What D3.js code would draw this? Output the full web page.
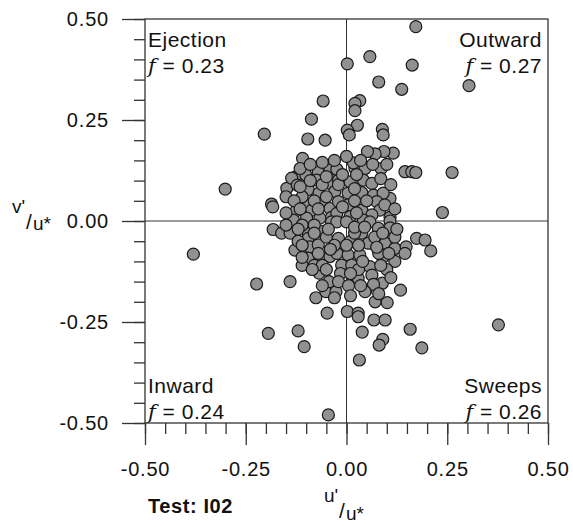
<!DOCTYPE html>
<html>
<head>
<meta charset="utf-8">
<script src="https://cdn.jsdelivr.net/npm/d3@7"></script>
<style>
  body { margin: 0; background: #fff; }
  svg { display: block; font-family: "Liberation Sans", Arial, sans-serif; }
  .tick text { font-size: 20px; letter-spacing: 0.8px; fill: #111; }
  .axis path { display: none; }
  .axis line { stroke: #333; stroke-width: 1.3; }
  .dot { fill: #919191; stroke: #1a1a1a; stroke-width: 1.2; }
  .lbl { font-size: 21px; letter-spacing: 0.5px; fill: #111; }
</style>
</head>
<body>
<svg id="chart" width="573" height="527"></svg>
<script>
// u'/u* and v'/u* for each event
var uPrime = [
  0.172, 0.058, 0.002, 0.163, 0.080, 0.137, -0.058, 0.033, 0.021, 0.021,
  -0.087, 0.027, 0.002, 0.089, -0.204, 0.091, -0.096, -0.053, 0.007, 0.304,
  0.262, 0.238, 0.145, 0.162, 0.172, 0.086, 0.116, 0.093, 0.071, 0.052,
  -0.109, 0.021, 0.046, 0.209, 0.174, 0.195, -0.301, -0.186, -0.183, -0.182,
  -0.161, -0.380, -0.125, -0.148, -0.136, -0.125, -0.132, -0.128, -0.223, -0.140,
  -0.194, -0.120, -0.105, -0.048, 0.002, 0.029, 0.029, 0.068, 0.096, 0.071,
  0.101, -0.076, 0.039, 0.158, 0.090, 0.081, 0.187, 0.032, -0.045, 0.377,
  0.134, 0.089, 0.048, 0.029, 0.058, -0.051, -0.026, -0.043, -0.068, -0.122,
  -0.101, -0.070, -0.074, -0.095, -0.068, -0.041, -0.041, -0.103, -0.058, -0.086,
  -0.041, -0.099, -0.066, -0.037, 0.017, -0.024, -0.020, 0.009, 0.042, 0.063,
  -0.029, 0.004, 0.038, 0.067, 0.108, 0.091, -0.020, 0.004, 0.075, 0.038,
  -0.024, 0.009, 0.083, 0.108, 0.063, 0.042, -0.037, -0.095, -0.062, -0.095,
  -0.091, -0.070, -0.095, -0.066, -0.041, -0.140, -0.024, 0.000, 0.058, 0.108,
  0.108, 0.079, 0.038, -0.020, 0.009, 0.054, 0.096, 0.120, 0.148, 0.145,
  -0.024, 0.004, 0.033, -0.012, 0.013, 0.063, 0.067, 0.046,
  -0.110, -0.080, -0.050, -0.020, 0.020, 0.050, 0.020, -0.060, -0.110, -0.080,
  -0.050, -0.030, 0.020, 0.070, 0.090, 0.120, 0.080, -0.120, -0.110, -0.080,
  -0.060, 0.030, 0.100, 0.120,
  -0.115, -0.090, -0.060, -0.030, 0.000, 0.035, 0.065, 0.100,
  -0.150, -0.130, -0.115, -0.090, -0.050, -0.010, 0.025, 0.085, 0.110,
  -0.150, -0.115, -0.070, -0.010, 0.025, 0.095, 0.120,
  -0.150, -0.120, -0.080, -0.045, 0.020, 0.045, 0.090, 0.125,
  -0.110, -0.070, -0.040, 0.000, 0.030, 0.075, 0.105,
  -0.110, -0.085, -0.050, -0.015, 0.010, 0.040, 0.085, 0.110,
  -0.060, -0.020, 0.005, 0.035, 0.080, -0.030, 0.010
];
var vPrime = [
  0.481, 0.407, 0.389, 0.386, 0.344, 0.326, 0.297, 0.298, 0.291, 0.273,
  0.252, 0.237, 0.225, 0.227, 0.215, 0.213, 0.203, 0.200, 0.213, 0.335,
  0.120, 0.021, 0.122, 0.122, 0.120, 0.130, 0.168, 0.172, 0.166, 0.172,
  0.155, 0.130, 0.130, -0.074, -0.043, -0.047, 0.079, 0.042, 0.035, -0.021,
  -0.030, -0.082, 0.110, 0.081, 0.106, 0.025, 0.002, -0.072, -0.156, -0.150,
  -0.278, -0.272, -0.311, -0.228, -0.224, -0.228, -0.237, -0.245, -0.245, -0.200,
  -0.202, -0.190, -0.275, -0.268, -0.293, -0.307, -0.314, -0.344, -0.480, -0.257,
  -0.171, -0.154, -0.172, -0.142, -0.113, -0.175, -0.175, -0.150, -0.129, 0.089,
  0.114, 0.120, 0.101, 0.078, 0.069, 0.093, 0.126, 0.044, 0.042, 0.027,
  0.031, 0.007, 0.007, 0.009, 0.144, 0.128, 0.101, 0.097, 0.101, 0.093,
  0.073, 0.069, 0.070, 0.064, 0.056, 0.069, 0.048, 0.040, 0.048, 0.027,
  0.019, 0.011, 0.027, 0.009, 0.015, 0.002, -0.002, -0.030, -0.026, -0.043,
  -0.064, -0.059, -0.092, -0.088, -0.088, -0.030, -0.002, -0.002, -0.002, 0.000,
  -0.017, -0.018, -0.030, -0.043, -0.051, -0.055, -0.055, -0.068, -0.064, -0.080,
  -0.080, -0.084, -0.084, -0.109, -0.109, -0.134, -0.157, -0.175,
  0.060, 0.050, 0.060, 0.090, 0.080, 0.050, 0.050, 0.090, -0.010, -0.010,
  -0.040, -0.060, -0.030, -0.040, -0.090, -0.100, -0.080, -0.050, -0.110, -0.110,
  -0.110, -0.120, -0.120, -0.040,
  0.130, 0.140, 0.145, 0.150, 0.160, 0.150, 0.140, 0.140,
  0.060, 0.050, 0.085, 0.100, 0.110, 0.115, 0.115, 0.105, 0.090,
  0.020, 0.030, 0.030, 0.035, 0.020, 0.040, 0.030,
  -0.010, -0.020, -0.030, -0.020, -0.015, -0.015, -0.030, -0.020,
  -0.060, -0.080, -0.070, -0.060, -0.060, -0.065, -0.080,
  -0.090, -0.120, -0.120, -0.130, -0.130, -0.100, -0.110, -0.140,
  -0.160, -0.150, -0.160, -0.160, -0.180, -0.190, -0.185
];

var majorTicks = [-0.50, -0.25, 0.00, 0.25, 0.50];
var minorTicks = d3.range(-10, 11).map(function(i) { return i * 0.05; });

var quadNames = ["Ejection", "Outward", "Inward", "Sweeps"];
var quadFreq = ["0.23", "0.27", "0.24", "0.26"];

var svg = d3.select("#chart"),
    margin = {top: 19, right: 25, bottom: 104, left: 145},
    width = +svg.attr("width") - margin.left - margin.right,
    height = +svg.attr("height") - margin.top - margin.bottom;

var x = d3.scaleLinear().domain([-0.5, 0.5]).range([0, width]),
    y = d3.scaleLinear().domain([-0.5, 0.5]).range([height, 0]);

var g = svg.append("g")
    .attr("transform", "translate(" + margin.left + "," + margin.top + ")");

var fmt = function(d) { return d3.format(".2f")(d).replace("\u2212", "-"); };

// minor ticks
g.append("g")
    .attr("class", "axis")
    .call(d3.axisLeft(y).tickValues(minorTicks).tickSize(11).tickFormat(""));
g.append("g")
    .attr("class", "axis")
    .attr("transform", "translate(0," + height + ")")
    .call(d3.axisBottom(x).tickValues(minorTicks).tickSize(11).tickFormat(""));

// major ticks + labels
g.append("g")
    .attr("class", "axis")
    .call(d3.axisLeft(y).tickValues(majorTicks).tickSize(23).tickPadding(13).tickFormat(fmt));
g.append("g")
    .attr("class", "axis")
    .attr("transform", "translate(0," + height + ")")
    .call(d3.axisBottom(x).tickValues(majorTicks).tickSize(22).tickPadding(17).tickFormat(fmt));

// zero lines
g.append("line")
    .attr("x1", x(0)).attr("x2", x(0)).attr("y1", 0).attr("y2", height)
    .style("stroke", "#333").style("stroke-width", 1);
g.append("line")
    .attr("x1", 0).attr("x2", width).attr("y1", y(0)).attr("y2", y(0))
    .style("stroke", "#333").style("stroke-width", 1);

// frame
g.append("rect")
    .attr("width", width).attr("height", height)
    .style("fill", "none").style("stroke", "#333").style("stroke-width", 1.3);

// points
g.selectAll(".dot")
  .data(uPrime.map(function(u, i) { return {u: u, v: vPrime[i]}; }))
  .enter().append("circle")
    .attr("class", "dot")
    .attr("cx", function(d) { return x(d.u); })
    .attr("cy", function(d) { return y(d.v); })
    .attr("r", 6);

// quadrant labels
var quadPos = [
  {x: 3, y: 28, anchor: "start"},
  {x: width - 6, y: 28, anchor: "end"},
  {x: 3, y: height - 30, anchor: "start"},
  {x: width - 6, y: height - 30, anchor: "end"}
];
quadNames.forEach(function(name, i) {
  var p = quadPos[i];
  g.append("text")
      .attr("class", "lbl")
      .attr("x", p.x).attr("y", p.y)
      .attr("text-anchor", p.anchor)
      .text(name);
  var t2 = g.append("text")
      .attr("class", "lbl")
      .attr("x", p.x).attr("y", p.y + 26)
      .attr("text-anchor", p.anchor);
  t2.append("tspan").style("font-style", "italic").style("font-family", "'DejaVu Serif', serif").text("f");
  t2.append("tspan").text(" = " + quadFreq[i]);
});

// axis titles
var yTitle = svg.append("g").style("font-size", "19px").style("fill", "#111");
yTitle.append("text").attr("x", 12).attr("y", 213).text("v'");
yTitle.append("text").attr("x", 26).attr("y", 229).style("font-size", "21px").text("/");
yTitle.append("text").attr("x", 33).attr("y", 230).text("u*");

var xTitle = svg.append("g").style("font-size", "19px").style("fill", "#111");
xTitle.append("text").attr("x", 324).attr("y", 502).text("u'");
xTitle.append("text").attr("x", 339).attr("y", 518).style("font-size", "21px").text("/");
xTitle.append("text").attr("x", 346).attr("y", 520).text("u*");

svg.append("text")
    .attr("x", 148).attr("y", 513)
    .style("font-size", "20px").style("font-weight", "bold").style("letter-spacing", "0.6px")
    .style("fill", "#111")
    .text("Test: I02");
</script>
</body>
</html>
